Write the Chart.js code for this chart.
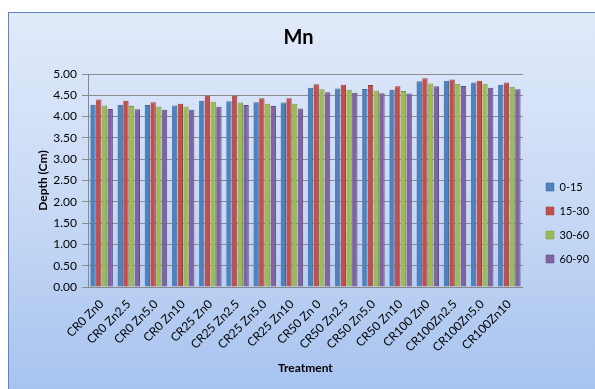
<!DOCTYPE html>
<html><head><meta charset="utf-8">
<script src="https://cdn.jsdelivr.net/npm/chart.js@4.4.1/dist/chart.umd.min.js"></script>
<style>html,body{margin:0;padding:0;background:#fff}#wrap{width:595px;height:389px;position:relative}</style>
</head><body><div id="wrap"><canvas id="c" width="595" height="389"></canvas></div>
<script>
const categories = ["CR0 Zn0","CR0 Zn2.5","CR0 Zn5.0","CR0 Zn10","CR25 Zn0","CR25 Zn2.5","CR25 Zn5.0","CR25 Zn10","CR50 Zn 0","CR50 Zn2.5","CR50 Zn5.0","CR50 Zn10","CR100 Zn0","CR100Zn2.5","CR100Zn5.0","CR100Zn10"];
const seriesNames = ["0-15","15-30","30-60","60-90"];
const d0_15  = [4.28,4.28,4.27,4.26,4.37,4.36,4.34,4.33,4.68,4.66,4.65,4.63,4.83,4.84,4.80,4.75];
const d15_30 = [4.40,4.37,4.34,4.30,4.49,4.49,4.43,4.43,4.76,4.75,4.74,4.71,4.90,4.87,4.84,4.80];
const d30_60 = [4.26,4.25,4.24,4.24,4.35,4.33,4.30,4.30,4.64,4.63,4.61,4.60,4.78,4.77,4.77,4.70];
const d60_90 = [4.18,4.17,4.16,4.16,4.23,4.27,4.25,4.19,4.57,4.56,4.55,4.54,4.71,4.72,4.68,4.64];
const yMin = 0, yMax = 5, yStep = 0.5;

const colors = ["#4f81bd","#c0504d","#9bbb59","#8064a2"];
const borders = ["#3a6496","#9c3a37","#7a9a3f","#5f4a7f"];
const values = [d0_15,d15_30,d30_60,d60_90];

const bgPlugin = {
  id:'bg',
  beforeDraw(chart){
    const ctx = chart.ctx;
    ctx.save();
    ctx.fillStyle = '#ffffff';
    ctx.fillRect(0,0,chart.width,chart.height);
    const g = ctx.createLinearGradient(0,12,0,389);
    g.addColorStop(0,'#e1eafa');
    g.addColorStop(0.5,'#c9daf5');
    g.addColorStop(1,'#a7c3ef');
    ctx.fillStyle = g;
    ctx.fillRect(8.5,12.5,600,400);
    ctx.strokeStyle = '#5b87c6';
    ctx.lineWidth = 1;
    ctx.strokeRect(8.5,12.5,600,400);
    ctx.restore();
  },
  afterLayout(chart){
    const lg = chart.legend;
    if(lg){ const dy = 223 - (lg.top+lg.bottom)/2; lg.top += dy; lg.bottom += dy; const dx = 533 - lg.left; lg.left += dx; lg.right += dx; }
    const t = chart.titleBlock;
    if(t){ t.left = 8; t.right = 589; }
  }
};

new Chart(document.getElementById('c'), {
  type:'bar',
  data:{
    labels:categories,
    datasets: seriesNames.map((n,i)=>({
      label:n, data:values[i], backgroundColor:colors[i], borderColor:borders[i], borderWidth:{top:1,left:0,right:1,bottom:0},
      categoryPercentage:0.84, barPercentage:0.95
    }))
  },
  options:{
    responsive:false, animation:false, devicePixelRatio:1,
    layout:{padding:{left:8,right:6,top:14,bottom:10}},
    plugins:{
      title:{display:true,text:'Mn',color:'#000',font:{family:'Lato',size:20,weight:'bold'},padding:{top:12,bottom:24}},
      legend:{position:'right',labels:{boxWidth:8,boxHeight:8,color:'#000',font:{family:'Lato',size:11},padding:13}},
      tooltip:{enabled:false}
    },
    scales:{
      x:{
        grid:{display:false},
        border:{color:'#888'},
        ticks:{color:'#000',font:{family:'Lato',size:12},maxRotation:45,minRotation:45,autoSkip:false,padding:2},
        title:{display:true,text:'Treatment',color:'#000',font:{family:'Lato',size:12,weight:'bold'},padding:{top:4}}
      },
      y:{
        min:yMin,max:yMax,
        afterFit(s){ s.width = 80; },
        grid:{color:'#8c8c8c',tickLength:6},
        border:{color:'#888'},
        ticks:{stepSize:yStep,color:'#000',font:{family:'Lato',size:12},callback:v=>v.toFixed(2),padding:5},
        title:{display:true,text:'Depth (Cm)',color:'#000',font:{family:'Lato',size:12,weight:'bold'},padding:{top:28,bottom:0}}
      }
    }
  },
  plugins:[bgPlugin]
});
</script></body></html>
